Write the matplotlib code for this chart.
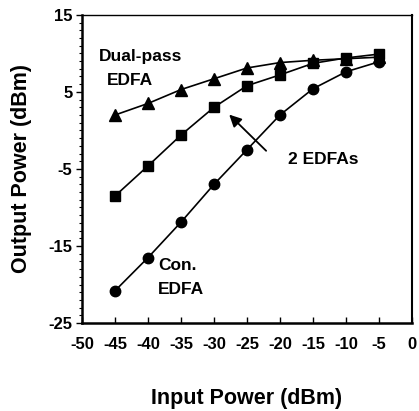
import matplotlib.pyplot as plt
from matplotlib.ticker import MultipleLocator

plt.rcParams['font.family'] = ['Liberation Sans', 'DejaVu Sans']
plt.rcParams['axes.unicode_minus'] = False

# 입력 파워 (dBm)
input_power = [-45, -40, -35, -30, -25, -20, -15, -10, -5]

# 출력 파워 (dBm)
dual_pass = [2.0, 3.5, 5.3, 6.7, 8.1, 8.8, 9.1, 9.3, 9.5]
two_edfas = [-8.5, -4.6, -0.6, 3.0, 5.8, 7.2, 8.7, 9.4, 9.9]
con_edfa = [-20.8, -16.5, -11.9, -7.0, -2.5, 2.0, 5.4, 7.6, 8.9]

x_ticks = [-50, -45, -40, -35, -30, -25, -20, -15, -10, -5, 0]
y_ticks = [-25, -15, -5, 5, 15]

fig = plt.figure(figsize=(4.19, 4.11), dpi=100)
ax = fig.add_axes([0.196, 0.214, 0.787, 0.750])

ax.plot(input_power, dual_pass, color='black', lw=1.2, marker='^', ms=8)
ax.plot(input_power, two_edfas, color='black', lw=1.2, marker='s', ms=7.5)
ax.plot(input_power, con_edfa, color='black', lw=1.2, marker='o', ms=7.5)

ax.set_xlim(-50, 0)
ax.set_ylim(-25, 15)
ax.set_xticks(x_ticks)
ax.set_yticks(y_ticks)
ax.yaxis.set_minor_locator(MultipleLocator(1))
ax.tick_params(axis='x', direction='in', length=4, width=1, pad=10, labelsize=12)
ax.tick_params(axis='y', which='major', direction='out', length=4, width=1, pad=3, labelsize=12)
ax.tick_params(axis='y', which='minor', direction='out', length=2, width=0.8)
for lab in ax.get_xticklabels() + ax.get_yticklabels():
    lab.set_fontweight('bold')

ax.spines['left'].set_linewidth(1.8)
ax.spines['bottom'].set_linewidth(1.8)
ax.spines['right'].set_linewidth(1.5)
ax.spines['top'].set_linewidth(1.0)

ax.set_xlabel('Input Power (dBm)', fontsize=15.5, fontweight='bold', labelpad=26)
ax.set_ylabel('Output Power (dBm)', fontsize=15.5, fontweight='bold', labelpad=12)

# 주석 텍스트
ax.text(-41.1, 9.55, 'Dual-pass', fontsize=12.5, fontweight='bold', ha='center', va='center')
ax.text(-42.7, 6.5, 'EDFA', fontsize=12.5, fontweight='bold', ha='center', va='center')
ax.text(-13.5, -3.8, '2 EDFAs', fontsize=12.5, fontweight='bold', ha='center', va='center')
ax.text(-35.6, -17.5, 'Con.', fontsize=12.5, fontweight='bold', ha='center', va='center')
ax.text(-35.0, -20.6, 'EDFA', fontsize=12.5, fontweight='bold', ha='center', va='center')
ax.annotate('', xy=(-28.0, 2.3), xytext=(-21.8, -2.9),
            arrowprops=dict(arrowstyle='-|>', color='black', lw=1.3, mutation_scale=18))

fig.savefig('out.png', dpi=100)
